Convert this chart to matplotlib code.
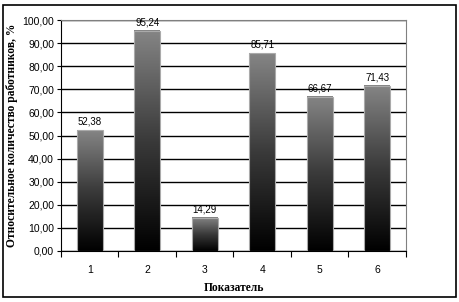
import numpy as np
import matplotlib
matplotlib.use('Agg')
import matplotlib.pyplot as plt
from matplotlib.colors import LinearSegmentedColormap
from matplotlib.patches import Rectangle

# data
categories = ['1', '2', '3', '4', '5', '6']
values = [52.38, 95.24, 14.29, 85.71, 66.67, 71.43]
yticks = np.arange(0, 101, 10)

fig = plt.figure(figsize=(4.6, 3.02), dpi=100)
fig.patches.append(Rectangle((3/460, 5/302), 453/460, 292/302, transform=fig.transFigure,
                             fill=False, edgecolor='black', linewidth=1.2))
ax = fig.add_axes([61/460, 51/302, 345/460, 231/302])

x = np.arange(1, len(values) + 1)
w = 0.45
cmap = LinearSegmentedColormap.from_list('g', ['#000000', '#3a3a3a', '#858585'])
grad = np.linspace(0, 1, 256).reshape(-1, 1)

for xi, v in zip(x, values):
    ax.imshow(grad, extent=[xi - w/2, xi + w/2, 0, v], origin='lower', cmap=cmap,
              aspect='auto', zorder=3)
    ax.bar(xi, v, width=w, fill=False, edgecolor='#aaaaaa', linewidth=0.8, zorder=4)
    ax.text(xi, v + 1.5, f'{v:.2f}'.replace('.', ','), ha='center', va='bottom',
            fontsize=7, family='Liberation Sans', zorder=5)

ax.set_xlim(0.5, 6.5)
ax.set_ylim(0, 100)
ax.set_yticks(yticks)
ax.set_yticklabels([f'{t:.2f}'.replace('.', ',') for t in yticks], fontsize=7.5,
                   family='Liberation Sans')
ax.set_xticks(x)
ax.set_xticklabels(categories, fontsize=7.5, family='Liberation Sans')
ax.set_xticks(np.arange(0.5, 7, 1), minor=True)
ax.tick_params(axis='x', which='major', length=0, pad=10)
ax.tick_params(axis='x', which='minor', length=4, direction='out', width=0.8)
ax.tick_params(axis='y', length=3, direction='out', width=0.8, pad=2)
ax.grid(axis='y', color='black', linewidth=1.0, zorder=1)
ax.set_axisbelow(True)

for s in ['top', 'right']:
    ax.spines[s].set_color('#808080')
for s in ['left', 'bottom']:
    ax.spines[s].set_color('black')

ax.set_ylabel('Относительное количество работников, %', fontsize=8.3, fontweight='bold',
              family='Liberation Serif', labelpad=3)
ax.set_xlabel('Показатель', fontsize=8.3, fontweight='bold', family='Liberation Serif',
              labelpad=5)

fig.savefig('out.png', dpi=100)
